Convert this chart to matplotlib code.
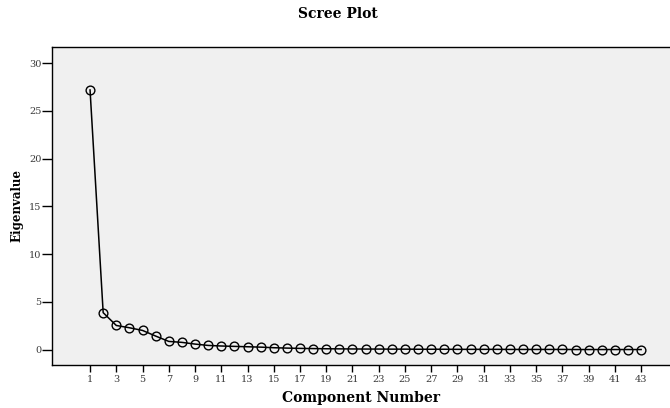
import matplotlib
matplotlib.use("Agg")
import matplotlib.pyplot as plt

components = list(range(1, 44))
eigenvalues = [27.2, 3.88, 2.54, 2.3, 2.02, 1.43, 0.87, 0.77, 0.59, 0.45,
               0.39, 0.35, 0.31, 0.27, 0.21, 0.17, 0.14, 0.12, 0.10, 0.09,
               0.08, 0.07, 0.07, 0.06, 0.06, 0.05, 0.05, 0.05, 0.04, 0.04,
               0.04, 0.04, 0.03, 0.03, 0.03, 0.03, 0.03, 0.02, 0.02, 0.02,
               0.02, 0.02, 0.02]
x_ticks = list(range(1, 44, 2))
y_ticks = [0, 5, 10, 15, 20, 25, 30]

serif = ["DejaVu Serif"]

fig = plt.figure(figsize=(6.7, 4.08), dpi=100)
ax = fig.add_axes([52/670, 1 - 365/408, 1 - 52/670, (365 - 47)/408])
ax.set_facecolor("#f0f0f0")

ax.plot(components, eigenvalues, color="black", linewidth=1.1,
        marker="o", markersize=6.3, markerfacecolor="none",
        markeredgecolor="black", markeredgewidth=1.0)

ax.set_xlim(-1.9, 45.2)
ax.set_ylim(-1.6, 31.7)
ax.set_xticks(x_ticks)
ax.set_yticks(y_ticks)
ax.tick_params(direction="out", width=1, color="black",
               labelsize=7, labelcolor="#3a3a3a")
ax.tick_params(axis="x", length=5, pad=2.5)
ax.tick_params(axis="y", length=7, pad=0.5)
for lab in ax.get_xticklabels() + ax.get_yticklabels():
    lab.set_family(serif)

for s in ["left", "bottom", "top"]:
    ax.spines[s].set_color("black")
    ax.spines[s].set_linewidth(1.0)
ax.spines["right"].set_visible(False)

ax.set_xlabel("Component Number", family=serif, fontweight="bold",
              fontsize=10, labelpad=5)
ax.set_ylabel("Eigenvalue", family=serif, fontweight="bold",
              fontsize=8.5, labelpad=4)
fig.text(0.505, 1 - 14/408, "Scree Plot", family=serif, fontweight="bold",
         fontsize=10, ha="center", va="center")

fig.savefig("out.png", dpi=100)
